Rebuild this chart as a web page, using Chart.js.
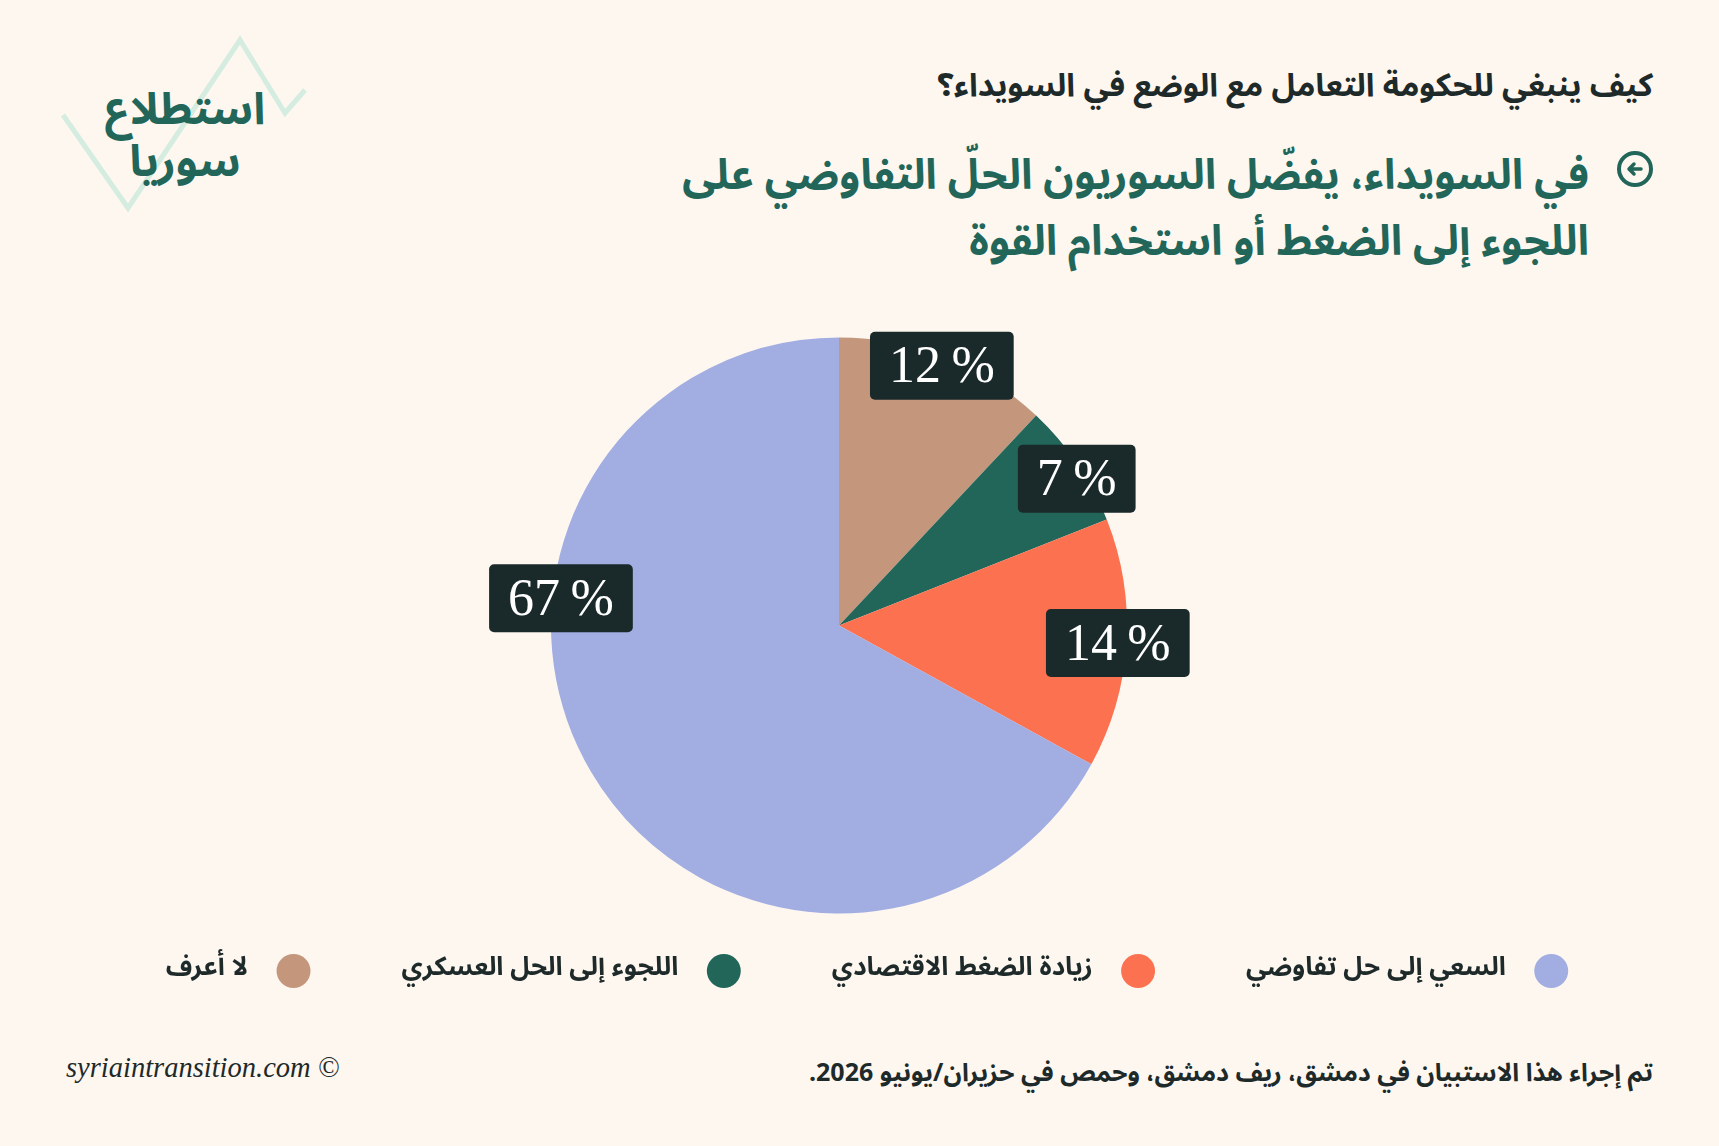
<!DOCTYPE html>
<html lang="ar">
<head>
<meta charset="utf-8">
<script src="https://cdn.jsdelivr.net/npm/chart.js@4.4.1/dist/chart.umd.min.js"></script>
<style>
  html, body { margin: 0; padding: 0; background: #fdf7f0; }
  body { width: 1719px; height: 1146px; position: relative; overflow: hidden;
         font-family: "Noto Sans Arabic", "DejaVu Sans", sans-serif; }
  .abs { position: absolute; }
  #question { right: 66px; top: 52px; font-size: 32px; font-weight: bold; color: #1e2a2a; direction: rtl; }
  #headline { right: 130px; top: 143px; width: 1000px; font-size: 42px; font-weight: bold; color: #22665a;
              direction: rtl; text-align: right; line-height: 66px; }
  #arrow { right: 66px; top: 151px; width: 36px; height: 36px; border: 4px solid #22665a; border-radius: 50%;
           box-sizing: border-box; }
  #logo { left: 90px; top: 84px; width: 190px; text-align: center; font-size: 44px; font-weight: bold;
          color: #22665a; direction: rtl; line-height: 52px; }
  #footL { left: 66px; top: 1052px; font-family: "Liberation Serif", serif; font-style: italic; font-size: 28.5px; color: #1e2a2a; }
  #footR { right: 66px; top: 1047px; font-size: 25px; font-weight: bold; color: #1e2a2a; direction: rtl; }
  #wrap { left: 0; top: 300px; width: 1719px; height: 694px; }
</style>
</head>
<body>
<svg class="abs" style="left:0;top:0" width="330" height="230">
  <polyline points="63,115 128,208 240,40 285,113 305,90" fill="none" stroke="#d5ece0" stroke-width="5"/>
</svg>
<div id="logo" class="abs">استطلاع<br>سوريا</div>
<div id="question" class="abs">كيف ينبغي للحكومة التعامل مع الوضع في السويداء؟</div>
<div id="arrow" class="abs">
  <svg width="28" height="28" style="position:absolute;left:0;top:0">
    <path d="M20 14 H9 M13 9 L8 14 L13 19" fill="none" stroke="#22665a" stroke-width="3.5" stroke-linecap="round" stroke-linejoin="round"/>
  </svg>
</div>
<div id="headline" class="abs">في السويداء، يفضّل السوريون الحلّ التفاوضي على اللجوء إلى الضغط أو استخدام القوة</div>
<div id="wrap" class="abs"><canvas id="pie"></canvas></div>
<div id="footL" class="abs">syriaintransition.com ©</div>
<div id="footR" class="abs">تم إجراء هذا الاستبيان في دمشق، ريف دمشق، وحمص في حزيران/يونيو 2026.</div>

<script>
// slices clockwise from 12 o'clock
const categories = ['لا أعرف', 'اللجوء إلى الحل العسكري', 'زيادة الضغط الاقتصادي', 'السعي إلى حل تفاوضي'];
const values = [12, 7, 14, 67];
const colors = ['#c4977c', '#22665a', '#fc7150', '#a2ade2'];
// where along each slice its label sits (0 = start, 1 = end)
const labelSpot = [0.5, 0.6, 0.5, 0.65];

const boxLabels = {
  id: 'boxLabels',
  afterDatasetsDraw(chart) {
    const ctx = chart.ctx;
    const arcs = chart.getDatasetMeta(0).data;
    ctx.save();
    ctx.direction = 'ltr';
    ctx.font = '52px "Liberation Serif", serif';
    ctx.textAlign = 'center';
    ctx.textBaseline = 'middle';
    arcs.forEach((arc, i) => {
      const p = arc.getProps(['x', 'y', 'startAngle', 'endAngle', 'outerRadius'], true);
      const a = p.startAngle + (p.endAngle - p.startAngle) * labelSpot[i];
      const r = p.outerRadius * 0.97;
      const x = p.x + Math.cos(a) * r;
      const y = p.y + Math.sin(a) * r;
      const txt = values[i] + '\u2009%';
      const w = ctx.measureText(txt).width + 38;
      const h = 68;
      ctx.fillStyle = '#1a2a2a';
      ctx.beginPath();
      ctx.roundRect(x - w / 2, y - h / 2, w, h, 5);
      ctx.fill();
      ctx.fillStyle = '#ffffff';
      ctx.fillText(txt, x, y + 3);
    });
    ctx.restore();
  }
};

new Chart(document.getElementById('pie'), {
  type: 'pie',
  data: {
    labels: categories,
    datasets: [{
      data: values,
      backgroundColor: colors,
      borderWidth: 0,
      radius: 288,
    }],
  },
  options: {
    responsive: true,
    maintainAspectRatio: false,
    animation: false,
    layout: { padding: { top: 88, bottom: 0, right: 41 } },
    plugins: {
      tooltip: { enabled: false },
      legend: {
        position: 'bottom',
        rtl: true,
        reverse: true,
        textDirection: 'rtl',
        labels: {
          usePointStyle: true,
          pointStyle: 'circle',
          boxHeight: 24,
          padding: 95,
          color: '#1e2a2a',
          font: { family: '"Noto Sans Arabic", "DejaVu Sans", sans-serif', size: 26, weight: 'bold' },
          generateLabels(chart) {
            const items = Chart.overrides.pie.plugins.legend.labels.generateLabels(chart);
            items.forEach(it => { it.text = '\u2002\u2005' + it.text; });
            // extra room after the last (leftmost) entry nudges the row right
            items[0].text += '\u2003\u2003';
            return items;
          },
        },
      },
    },
  },
  plugins: [boxLabels],
});
</script>
</body>
</html>
